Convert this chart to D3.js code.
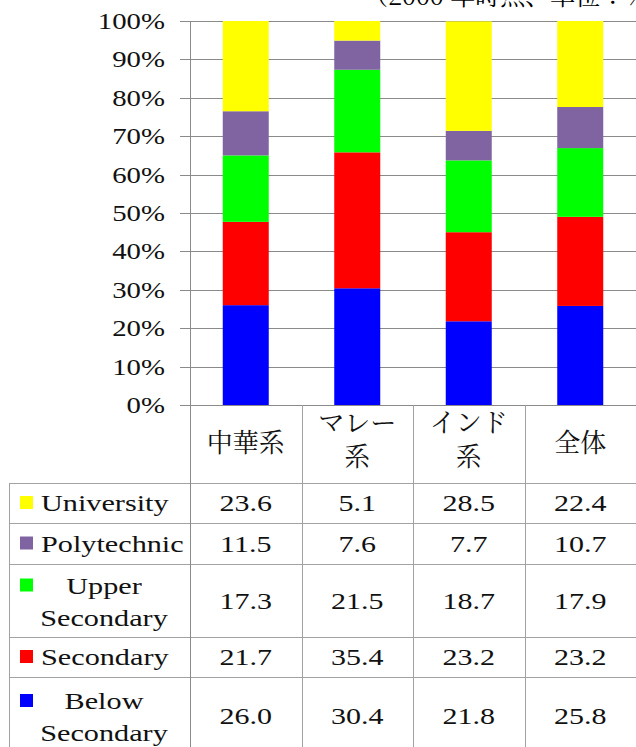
<!DOCTYPE html>
<html>
<head>
<meta charset="utf-8">
<script src="https://cdn.jsdelivr.net/npm/d3@7"></script>
</head>
<body style="margin:0">
<script>
var width = 636, height = 747;

// data
var categories = ["中華系", "マレー系", "インド系", "全体"];
var seriesNames = ["Below Secondary", "Secondary", "Upper Secondary", "Polytechnic", "University"];
var belowSecondary = [26.0, 30.4, 21.8, 25.8];
var secondary = [21.7, 35.4, 23.2, 23.2];
var upperSecondary = [17.3, 21.5, 18.7, 17.9];
var polytechnic = [11.5, 7.6, 7.7, 10.7];
var university = [23.6, 5.1, 28.5, 22.4];
var seriesColors = ["#0000ff", "#ff0000", "#00ff00", "#8064a2", "#ffff00"];
var yTicks = [0, 10, 20, 30, 40, 50, 60, 70, 80, 90, 100];

var seriesValues = [belowSecondary, secondary, upperSecondary, polytechnic, university];

var rows = categories.map(function(c, i) {
  var r = {cat: c};
  seriesNames.forEach(function(s, j) { r[s] = seriesValues[j][i]; });
  return r;
});
var stacked = d3.stack().keys(seriesNames)(rows);

var svg = d3.select("body").append("svg")
    .attr("width", width)
    .attr("height", height);

var x = d3.scaleBand().domain(categories).range([190, 636]).padding(0);
var y = d3.scaleLinear().domain([0, 100]).range([405, 21]);
var barW = 46;

var serif = "Liberation Serif";
var mincho = "Noto Serif CJK JP";
var gridColor = "#8a8a8a";
var tableColor = "#a2a2a2";
var fs = 24;

// serif text, widened horizontally (the original face is a wide schoolbook)
function label(parent, px, py, txt, anchor, k) {
  return parent.append("text")
      .attr("transform", "translate(" + px + "," + py + ") scale(" + k + ",1)")
      .attr("text-anchor", anchor)
      .attr("font-family", serif)
      .style("font-family", "\"" + serif + "\"")
      .style("font-size", fs + "px")
      .attr("fill", "#111")
      .text(txt);
}

// clipped note at the top
svg.append("text")
    .attr("x", 363).attr("y", 5)
    .style("font-family", "\"" + mincho + "\"")
    .style("font-size", "25px")
    .attr("fill", "#000")
    .text("（2000 年時点、単位：%）");

// gridlines + ticks
svg.append("g").selectAll("line")
    .data(yTicks)
    .join("line")
    .attr("x1", 180).attr("x2", width)
    .attr("y1", function(d) { return Math.round(y(d)) + 0.5; })
    .attr("y2", function(d) { return Math.round(y(d)) + 0.5; })
    .attr("stroke", gridColor)
    .attr("stroke-width", 1);

var tickG = svg.append("g");
yTicks.forEach(function(d) {
  label(tickG, 165, y(d) + 8, d + "%", "end", 1.2);
});

// bars
svg.append("g").selectAll("g")
    .data(stacked)
    .join("g")
    .attr("fill", function(d, i) { return seriesColors[i]; })
    .selectAll("rect")
    .data(function(d) { return d; })
    .join("rect")
    .attr("x", function(d) { return x(d.data.cat) + (x.bandwidth() - barW) / 2; })
    .attr("width", barW)
    .attr("y", function(d) { return y(Math.min(d[1], 100)); })
    .attr("height", function(d) { return y(d[0]) - y(Math.min(d[1], 100)); });

// table rows (top to bottom)
var tableRows = [
  {name: "University", lines: ["University"], top: 483, bottom: 523},
  {name: "Polytechnic", lines: ["Polytechnic"], top: 523, bottom: 564},
  {name: "Upper Secondary", lines: ["Upper", "Secondary"], top: 564, bottom: 637},
  {name: "Secondary", lines: ["Secondary"], top: 637, bottom: 677},
  {name: "Below Secondary", lines: ["Below", "Secondary"], top: 677, bottom: 755}
];

var table = svg.append("g");

// horizontal lines
table.selectAll("line.h")
    .data(tableRows)
    .join("line")
    .attr("class", "h")
    .attr("x1", 9).attr("x2", width)
    .attr("y1", function(d) { return d.top + 0.5; })
    .attr("y2", function(d) { return d.top + 0.5; })
    .attr("stroke", tableColor);

// vertical lines
var colEdges = [190, x("マレー系"), x("インド系"), x("全体")];
table.selectAll("line.v")
    .data(colEdges)
    .join("line")
    .attr("class", "v")
    .attr("x1", function(d) { return Math.round(d) + 0.5; })
    .attr("x2", function(d) { return Math.round(d) + 0.5; })
    .attr("y1", function(d, i) { return i === 0 ? 21 : 405; })
    .attr("y2", height)
    .attr("stroke", function(d, i) { return i === 0 ? gridColor : tableColor; });
table.append("line")
    .attr("x1", 9.5).attr("x2", 9.5)
    .attr("y1", 483).attr("y2", height)
    .attr("stroke", tableColor);

// header labels
categories.forEach(function(d) {
  var lines = d.length > 3 ? [d.slice(0, d.length - 1), d.slice(-1)] : [d];
  var cx = x(d) + x.bandwidth() / 2;
  var y0 = lines.length === 1 ? 452 : 432;
  lines.forEach(function(l, k) {
    table.append("text")
        .attr("x", cx).attr("y", y0 + k * 34)
        .attr("text-anchor", "middle")
        .style("font-family", "\"" + mincho + "\"")
        .style("font-size", "26px")
        .attr("fill", "#111")
        .text(l);
  });
});

// legend labels + values
tableRows.forEach(function(r) {
  var si = seriesNames.indexOf(r.name);
  var mid = (r.top + r.bottom) / 2;
  var g = table.append("g");
  if (r.lines.length === 1) {
    g.append("rect")
        .attr("x", 20).attr("y", mid - 7)
        .attr("width", 13).attr("height", 13)
        .attr("fill", seriesColors[si]);
    label(g, 41, mid + 8, r.lines[0], "start", 1.26);
  } else {
    g.append("rect")
        .attr("x", 20).attr("y", mid - 22)
        .attr("width", 13).attr("height", 13)
        .attr("fill", seriesColors[si]);
    r.lines.forEach(function(l, k) {
      label(g, 104, mid - 7 + k * 32, l, "middle", 1.26);
    });
  }
  seriesValues[si].forEach(function(v, i) {
    label(g, x(categories[i]) + x.bandwidth() / 2, mid + 8, v.toFixed(1), "middle", 1.25);
  });
});
</script>
</body>
</html>
